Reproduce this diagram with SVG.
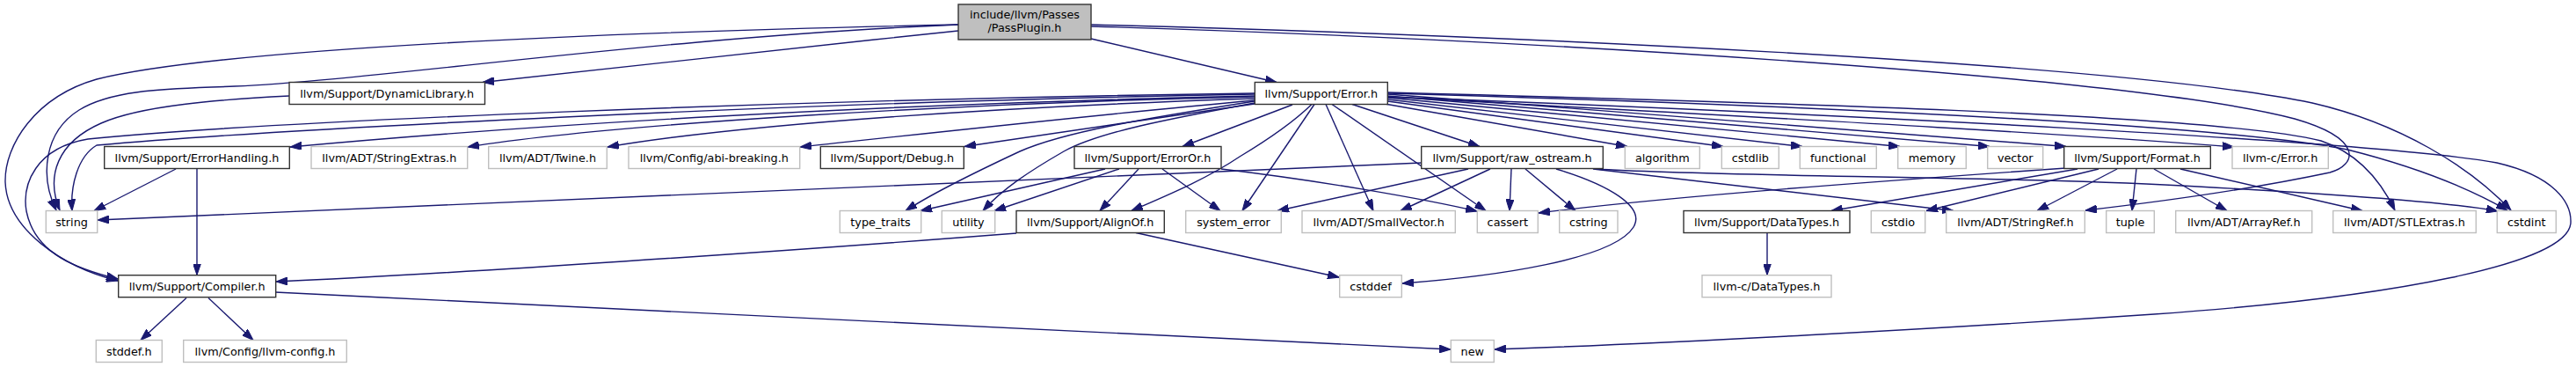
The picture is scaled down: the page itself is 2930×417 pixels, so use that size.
<svg xmlns="http://www.w3.org/2000/svg" width="2930" height="417" viewBox="0 0 2930 417">
<style>
.n rect{fill:#ffffff;stroke:#bfbfbf;stroke-width:1.4}
.d rect{fill:#ffffff;stroke:#333333;stroke-width:1.4}
.r rect{fill:#bfbfbf;stroke:#333333;stroke-width:1.4}
text{font-family:"DejaVu Sans","Liberation Sans",sans-serif;font-size:12.8px;fill:#000000;text-anchor:middle}
#edges path{fill:none;stroke:#191970;stroke-width:1.4;marker-end:url(#a)}
</style>
<defs>
<marker id="a" markerWidth="13" markerHeight="9" refX="13" refY="4.5" orient="auto" markerUnits="userSpaceOnUse">
<path d="M0,0 L13,4.5 L0,9 z" fill="#191970" stroke="#191970" stroke-width="1"/>
</marker>
</defs>
<rect x="0" y="0" width="2930" height="417" fill="#ffffff"/>
<g id="edges">
<path d="M1090,35 C900,55 700,76 549,93.5"/>
<path d="M1241,44 L1452,93.5"/>
<path d="M1090,28 C700,36 250,55 110,90 C40,110 5,165 6,207 C8,260 70,303 134,319"/>
<path d="M1090,28 C750,42 420,92 267,98 C200,101 130,100 90,125 C50,150 45,200 64,239"/>
<path d="M329,109 C250,113 160,120 115,140 C65,162 52,200 68,239"/>
<path d="M1241,28 C1700,40 2400,70 2630,117 C2730,140 2810,190 2856,239"/>
<path d="M1241,30 C1700,43 2420,85 2610,135 C2690,158 2680,188 2650,196 C2560,215 2450,230 2372,239"/>
<path d="M1578,110 C2100,130 2700,160 2840,185 C2905,200 2925,230 2924,253 C2922,300 2720,338 2450,357 C2200,374 1900,390 1700,397"/>
<path d="M313,332 C800,356 1300,382 1650,397"/>
<path d="M1578,105 C2000,116 2520,130 2640,160 C2685,175 2710,210 2724,239"/>
<path d="M1578,106 C2000,118 2520,140 2670,170 C2750,190 2810,215 2852,239"/>
<path d="M1578,110 C1900,128 2300,148 2541,167"/>
<path d="M1538,118.5 L1683,166.5"/>
<path d="M1575,118 L1851,166.5"/>
<path d="M1578,115 L1960,166.5"/>
<path d="M1578,113 L2050,166.5"/>
<path d="M1578,111 L2161,166.5"/>
<path d="M1578,109 L2263,166.5"/>
<path d="M1578,107 L2350,166.5"/>
<path d="M1427,109 C1000,118 600,142 330,167"/>
<path d="M1427,110 C1100,117 700,140 532,167"/>
<path d="M1427,112 C1150,121 850,140 691,167"/>
<path d="M1427,114 C1250,130 1050,152 910,167"/>
<path d="M1427,118 L1097,166.5"/>
<path d="M1470,119 L1345,166.5"/>
<path d="M1427,115 C1300,135 1210,150 1160,172 C1100,200 1060,220 1030,239.5"/>
<path d="M1427,117 C1330,135 1250,150 1210,172 C1170,195 1140,215 1118,239.5"/>
<path d="M1492,118.5 C1470,140 1440,160 1410,178 C1370,205 1320,225 1287,239.5"/>
<path d="M1495,118.5 L1413,239.5"/>
<path d="M1508,118.5 L1562,239.5"/>
<path d="M1515,118.5 L1690,239.5"/>
<path d="M1427,107 C900,116 300,148 110,165 C88,178 80,212 82,239.5"/>
<path d="M1427,106 C900,113 300,138 100,158 C40,168 25,210 30,240 C40,290 90,306 134,317"/>
<path d="M200,192 L107,239.5"/>
<path d="M224,192 L224,312.5"/>
<path d="M212,338.5 L160,386.5"/>
<path d="M237,338.5 L288,386.5"/>
<path d="M1156,265 C900,285 500,312 314,320"/>
<path d="M1292,264.5 L1523,315"/>
<path d="M1257,192 L1047,239.5"/>
<path d="M1273,192 L1131,239.5"/>
<path d="M1295,192 L1251,239.5"/>
<path d="M1322,192 L1388,239.5"/>
<path d="M1389,192 C1500,205 1620,226 1680,240"/>
<path d="M1617,185 L111,250"/>
<path d="M1670,192 L1453,239.5"/>
<path d="M1695,192 L1593,239.5"/>
<path d="M1719,192 L1717,239.5"/>
<path d="M1735,192 L1792,239.5"/>
<path d="M1770,192 C1830,210 1872,235 1858,258 C1835,295 1700,314 1595,322"/>
<path d="M1812,192 L2222,239.5"/>
<path d="M1815,192 C1950,201 2300,200 2500,212 C2700,223 2800,232 2841,240"/>
<path d="M2350,191 C2150,205 1900,223 1750,242"/>
<path d="M2363,192 L2083,239.5"/>
<path d="M2387,192 L2191,239.5"/>
<path d="M2408,192 L2317,239.5"/>
<path d="M2430,192 L2425,239.5"/>
<path d="M2450,192 L2533,239.5"/>
<path d="M2480,192 L2687,239.5"/>
<path d="M2010,264.5 L2010,312.5"/>
</g>
<g id="PassPlugin" class="r"><rect x="1090" y="5" width="151" height="40"/><text x="1165.5" y="21">include/llvm/Passes</text><text x="1165.5" y="36">/PassPlugin.h</text></g>
<g id="DynamicLibrary" class="d"><rect x="329" y="93.5" width="222.5" height="25"/><text x="440.2" y="110.5">llvm/Support/DynamicLibrary.h</text></g>
<g id="ErrorH" class="d"><rect x="1427.3" y="93.5" width="151" height="25"/><text x="1502.8" y="110.5">llvm/Support/Error.h</text></g>
<g id="ErrorHandling" class="d"><rect x="118.7" y="166.5" width="210.6" height="25"/><text x="224" y="183.5">llvm/Support/ErrorHandling.h</text></g>
<g id="StringExtras" class="n"><rect x="354" y="166.5" width="177.7" height="25"/><text x="442.8" y="183.5">llvm/ADT/StringExtras.h</text></g>
<g id="Twine" class="n"><rect x="555.7" y="166.5" width="134.6" height="25"/><text x="623" y="183.5">llvm/ADT/Twine.h</text></g>
<g id="abibreaking" class="n"><rect x="715" y="166.5" width="194.7" height="25"/><text x="812.3" y="183.5">llvm/Config/abi-breaking.h</text></g>
<g id="Debug" class="d"><rect x="933.3" y="166.5" width="163" height="25"/><text x="1014.8" y="183.5">llvm/Support/Debug.h</text></g>
<g id="ErrorOr" class="d"><rect x="1222" y="166.5" width="167" height="25"/><text x="1305.5" y="183.5">llvm/Support/ErrorOr.h</text></g>
<g id="raw_ostream" class="d"><rect x="1616.7" y="166.5" width="206.6" height="25"/><text x="1720" y="183.5">llvm/Support/raw_ostream.h</text></g>
<g id="algorithm" class="n"><rect x="1848.3" y="166.5" width="85" height="25"/><text x="1890.8" y="183.5">algorithm</text></g>
<g id="cstdlib" class="n"><rect x="1958.3" y="166.5" width="65" height="25"/><text x="1990.8" y="183.5">cstdlib</text></g>
<g id="functional" class="n"><rect x="2047.3" y="166.5" width="87" height="25"/><text x="2090.8" y="183.5">functional</text></g>
<g id="memory" class="n"><rect x="2158.7" y="166.5" width="77.6" height="25"/><text x="2197.5" y="183.5">memory</text></g>
<g id="vector" class="n"><rect x="2260.7" y="166.5" width="63" height="25"/><text x="2292.2" y="183.5">vector</text></g>
<g id="Format" class="d"><rect x="2347.7" y="166.5" width="166.6" height="25"/><text x="2431" y="183.5">llvm/Support/Format.h</text></g>
<g id="cError" class="n"><rect x="2539" y="166.5" width="109.3" height="25"/><text x="2593.6" y="183.5">llvm-c/Error.h</text></g>
<g id="string" class="n"><rect x="52.3" y="239.5" width="58.4" height="25"/><text x="81.5" y="256.5">string</text></g>
<g id="type_traits" class="n"><rect x="955.3" y="239.5" width="92.4" height="25"/><text x="1001.5" y="256.5">type_traits</text></g>
<g id="utility" class="n"><rect x="1071.3" y="239.5" width="60.4" height="25"/><text x="1101.5" y="256.5">utility</text></g>
<g id="AlignOf" class="d"><rect x="1156" y="239.5" width="168.3" height="25"/><text x="1240.2" y="256.5">llvm/Support/AlignOf.h</text></g>
<g id="system_error" class="n"><rect x="1348.7" y="239.5" width="108.6" height="25"/><text x="1403" y="256.5">system_error</text></g>
<g id="SmallVector" class="n"><rect x="1481" y="239.5" width="174.3" height="25"/><text x="1568.2" y="256.5">llvm/ADT/SmallVector.h</text></g>
<g id="cassert" class="n"><rect x="1680.3" y="239.5" width="69" height="25"/><text x="1714.8" y="256.5">cassert</text></g>
<g id="cstring" class="n"><rect x="1773.7" y="239.5" width="66.3" height="25"/><text x="1806.8" y="256.5">cstring</text></g>
<g id="DataTypes" class="d"><rect x="1915" y="239.5" width="189" height="25"/><text x="2009.5" y="256.5">llvm/Support/DataTypes.h</text></g>
<g id="cstdio" class="n"><rect x="2128.3" y="239.5" width="61.4" height="25"/><text x="2159" y="256.5">cstdio</text></g>
<g id="StringRef" class="n"><rect x="2213.7" y="239.5" width="157.6" height="25"/><text x="2292.5" y="256.5">llvm/ADT/StringRef.h</text></g>
<g id="tuple" class="n"><rect x="2395.7" y="239.5" width="54.6" height="25"/><text x="2423" y="256.5">tuple</text></g>
<g id="ArrayRef" class="n"><rect x="2474.7" y="239.5" width="155" height="25"/><text x="2552.2" y="256.5">llvm/ADT/ArrayRef.h</text></g>
<g id="STLExtras" class="n"><rect x="2653.7" y="239.5" width="162.6" height="25"/><text x="2735" y="256.5">llvm/ADT/STLExtras.h</text></g>
<g id="cstdint" class="n"><rect x="2840.3" y="239.5" width="67" height="25"/><text x="2873.8" y="256.5">cstdint</text></g>
<g id="Compiler" class="d"><rect x="134.7" y="312.7" width="179" height="25"/><text x="224.2" y="329.7">llvm/Support/Compiler.h</text></g>
<g id="cstddef" class="n"><rect x="1523.7" y="312.7" width="70.6" height="25"/><text x="1559" y="329.7">cstddef</text></g>
<g id="cDataTypes" class="n"><rect x="1936" y="312.7" width="147" height="25"/><text x="2009.5" y="329.7">llvm-c/DataTypes.h</text></g>
<g id="stddef" class="n"><rect x="109.3" y="386.5" width="75" height="25"/><text x="146.8" y="403.5">stddef.h</text></g>
<g id="llvmconfig" class="n"><rect x="208.7" y="386.5" width="185.6" height="25"/><text x="301.5" y="403.5">llvm/Config/llvm-config.h</text></g>
<g id="new" class="n"><rect x="1650.3" y="386.5" width="49" height="25"/><text x="1674.8" y="403.5">new</text></g>
</svg>
